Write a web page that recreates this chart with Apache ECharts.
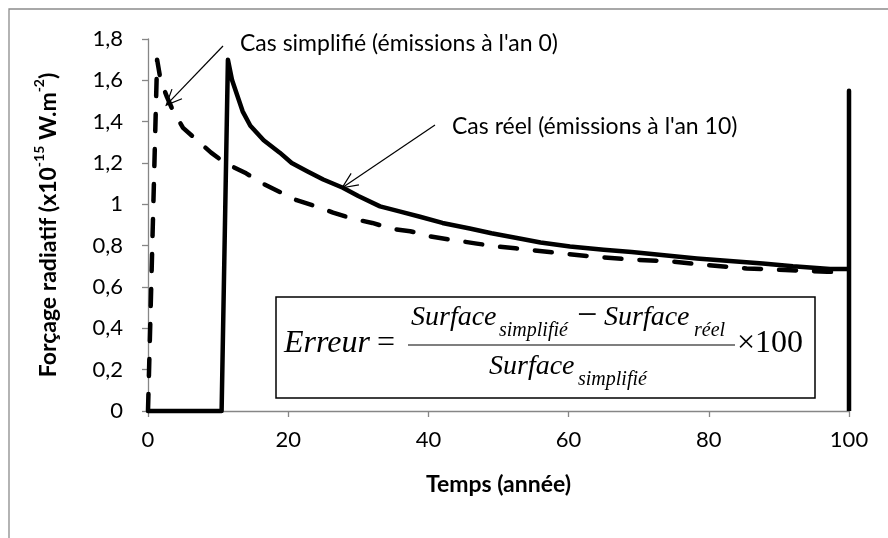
<!DOCTYPE html>
<html>
<head>
<meta charset="utf-8">
<script src="https://cdn.jsdelivr.net/npm/echarts@6/dist/echarts.min.js"></script>
<style>
  html, body { margin: 0; padding: 0; background: #fff; }
  #chart { width: 888px; height: 538px; }
</style>
</head>
<body>
<div id="chart"></div>
<script>
// cas simplifié (émissions à l'an 0) - pointillés
const simplX = [0, 1.3, 1.8, 2.7, 3.6, 5, 7, 9, 11, 14, 16.4, 18.8, 21.2, 24, 26.4, 29.2, 32, 35, 37.4, 40.2, 43, 46.9, 50, 52.4, 57.8, 63.3, 68.8, 74.5, 79.9, 85.4, 90.9, 96.9, 98.5]
const simplY = [0, 1.70, 1.60, 1.52, 1.45, 1.37, 1.31, 1.25, 1.20, 1.15, 1.10, 1.06, 1.02, 0.99, 0.96, 0.93, 0.91, 0.88, 0.87, 0.845, 0.83, 0.81, 0.795, 0.787, 0.767, 0.748, 0.733, 0.724, 0.706, 0.69, 0.682, 0.674, 0.672]
// cas réel (émissions à l'an 10) - trait plein
const reelX = [0, 10.5, 11.4, 12, 12.7, 13.5, 14.6, 16.5, 18.8, 20.5, 22.7, 25, 27.8, 30, 33.1, 36, 38.8, 42, 45.9, 49, 53, 56, 60.2, 65, 69, 74, 78.3, 83, 87.7, 92, 97.3, 100, 100, 100]
const reelY = [0, 0, 1.70, 1.60, 1.53, 1.45, 1.38, 1.31, 1.25, 1.20, 1.16, 1.12, 1.08, 1.04, 0.99, 0.965, 0.94, 0.91, 0.883, 0.86, 0.835, 0.815, 0.796, 0.78, 0.769, 0.752, 0.738, 0.726, 0.714, 0.70, 0.687, 0.687, 1.55, 0]

const yTickLabels = ['0', '0,2', '0,4', '0,6', '0,8', '1', '1,2', '1,4', '1,6', '1,8']
const xTickLabels = ['0', '20', '40', '60', '80', '100']

// pointes des flèches (coordonnées de données)
const tipSimpl = [2.6, 1.48]
const tipReel = [27.7, 1.08]

const FONT = 'Lato'
const AXIS_GRAY = '#868686'

const chartDom = document.getElementById('chart')
const myChart = echarts.init(chartDom)

const option = {
  animation: false,
  backgroundColor: '#fff',
  grid: { left: 148, right: 39, top: 39, bottom: 127, containLabel: false },
  xAxis: {
    type: 'value',
    min: 0, max: 100, interval: 20,
    name: 'Temps (année)',
    nameLocation: 'middle',
    nameGap: 62,
    nameTextStyle: { fontFamily: FONT, fontWeight: 'bold', fontSize: 23, color: '#000' },
    axisLine: { lineStyle: { color: AXIS_GRAY, width: 1.3 } },
    axisTick: { show: true, length: 6, lineStyle: { color: AXIS_GRAY, width: 1.3 } },
    axisLabel: {
      margin: 18, fontFamily: FONT, fontSize: 22, color: '#000',
      formatter: v => xTickLabels[Math.round(v / 20)]
    },
    splitLine: { show: false }
  },
  yAxis: {
    type: 'value',
    min: 0, max: 1.8, interval: 0.2,
    name: '{b|Forçage radiatif (x10}{s|-15}{b| W.m}{s|-2}{b|)}',
    nameLocation: 'middle',
    nameRotate: 90,
    nameGap: 88,
    nameTextStyle: {
      rich: {
        b: { fontFamily: FONT, fontWeight: 'bold', fontSize: 23, color: '#000', lineHeight: 28, verticalAlign: 'bottom' },
        s: { fontFamily: FONT, fontWeight: 'bold', fontSize: 14, color: '#000', lineHeight: 28, verticalAlign: 'top', padding: [0, 0, 8, 0] }
      }
    },
    axisLine: { show: true, lineStyle: { color: AXIS_GRAY, width: 1.3 } },
    axisTick: { show: true, length: 6, lineStyle: { color: AXIS_GRAY, width: 1.3 } },
    axisLabel: {
      margin: 25, fontFamily: FONT, fontSize: 22, color: '#000',
      formatter: v => yTickLabels[Math.round(v / 0.2)]
    },
    splitLine: { show: false }
  },
  series: [
    {
      name: 'Cas simplifié',
      type: 'line',
      data: simplX.map((x, i) => [x, simplY[i]]),
      showSymbol: false,
      smooth: false,
      clip: false,
      lineStyle: { color: '#000', width: 4.5, type: [17, 18], cap: 'round', join: 'round' },
      z: 3
    },
    {
      name: 'Cas réel',
      type: 'line',
      data: reelX.map((x, i) => [x, reelY[i]]),
      showSymbol: false,
      smooth: false,
      clip: false,
      lineStyle: { color: '#000', width: 4.5, join: 'round' },
      z: 4
    }
  ]
}

myChart.setOption(option)

// annotations, flèches et cadre de la formule
function arrow(from, to) {
  const ang = Math.atan2(to[1] - from[1], to[0] - from[0])
  const len = 17, spread = 0.42
  const a1 = [to[0] - len * Math.cos(ang - spread), to[1] - len * Math.sin(ang - spread)]
  const a2 = [to[0] - len * Math.cos(ang + spread), to[1] - len * Math.sin(ang + spread)]
  return [
    { type: 'line', shape: { x1: from[0], y1: from[1], x2: to[0], y2: to[1] }, style: { stroke: '#000', lineWidth: 1.2 }, z: 10 },
    { type: 'polyline', shape: { points: [a1, to, a2] }, style: { stroke: '#000', lineWidth: 1.2, fill: null }, z: 10 }
  ]
}

const pSimpl = myChart.convertToPixel({ gridIndex: 0 }, tipSimpl)
const pReel = myChart.convertToPixel({ gridIndex: 0 }, tipReel)

const italic = 'italic 28px "Liberation Serif"'
const sub = 'italic 20px "Liberation Serif"'
const roman = '32px "Liberation Serif"'

const graphics = [
  // bordure grise du graphique
  { type: 'rect', shape: { x: 9, y: 9, width: 900, height: 600 }, style: { stroke: '#8c8c8c', lineWidth: 1.3, fill: null }, z: 1 },
  { type: 'text', x: 240, y: 44, style: { text: "Cas simplifié (émissions à l'an 0)", font: '23px ' + FONT, fill: '#000', verticalAlign: 'middle' }, z: 10 },
  { type: 'text', x: 452, y: 127, style: { text: "Cas réel (émissions à l'an 10)", font: '23px ' + FONT, fill: '#000', verticalAlign: 'middle' }, z: 10 },
  ...arrow([223, 46], pSimpl),
  ...arrow([435, 125], pReel),
  // cadre formule
  { type: 'rect', shape: { x: 276, y: 297, width: 539, height: 101 }, style: { stroke: '#000', lineWidth: 1.5, fill: '#fff' }, z: 8 },
  { type: 'text', x: 284, y: 344, style: { text: 'Erreur', font: 'italic 32px "Liberation Serif"', fill: '#000', verticalAlign: 'middle' }, z: 9 },
  { type: 'text', x: 377, y: 344, style: { text: '=', font: roman, fill: '#000', verticalAlign: 'middle' }, z: 9 },
  { type: 'line', shape: { x1: 408, y1: 345, x2: 735, y2: 345 }, style: { stroke: '#000', lineWidth: 1.2 }, z: 9 },
  { type: 'text', x: 411, y: 318, style: { text: 'Surface', font: italic, fill: '#000', verticalAlign: 'middle' }, z: 9 },
  { type: 'text', x: 499, y: 331, style: { text: 'simplifié', font: sub, fill: '#000', verticalAlign: 'middle' }, z: 9 },
  { type: 'text', x: 577, y: 317, style: { text: '−', font: '36px "Liberation Serif"', fill: '#000', verticalAlign: 'middle' }, z: 9 },
  { type: 'text', x: 604, y: 318, style: { text: 'Surface', font: italic, fill: '#000', verticalAlign: 'middle' }, z: 9 },
  { type: 'text', x: 694, y: 331, style: { text: 'réel', font: sub, fill: '#000', verticalAlign: 'middle' }, z: 9 },
  { type: 'text', x: 489, y: 367, style: { text: 'Surface', font: italic, fill: '#000', verticalAlign: 'middle' }, z: 9 },
  { type: 'text', x: 578, y: 380, style: { text: 'simplifié', font: sub, fill: '#000', verticalAlign: 'middle' }, z: 9 },
  { type: 'text', x: 737, y: 344, style: { text: '×100', font: roman, fill: '#000', verticalAlign: 'middle' }, z: 9 }
]

myChart.setOption({ graphic: graphics })
</script>
</body>
</html>
